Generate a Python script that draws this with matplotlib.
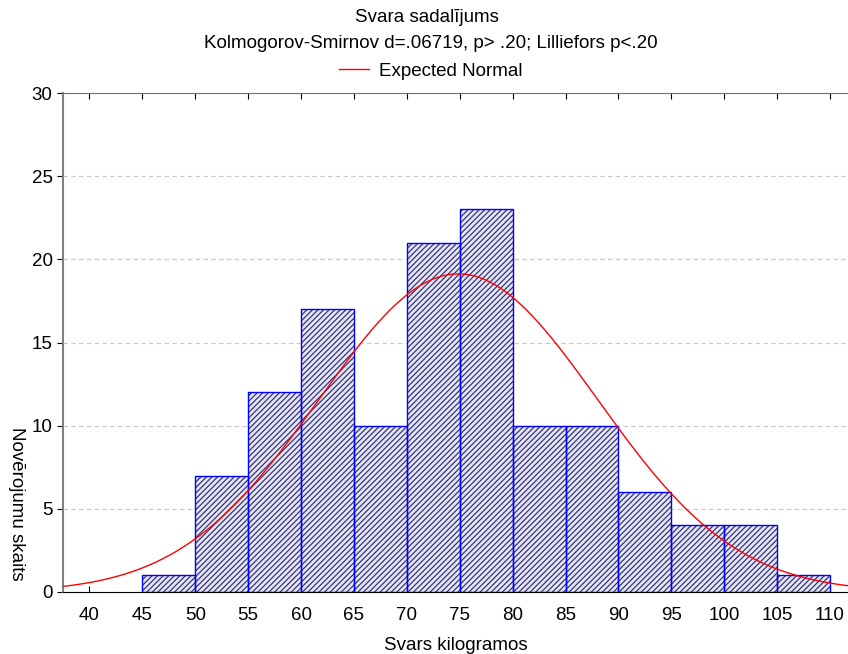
import numpy as np
import matplotlib.pyplot as plt

plt.rcParams['font.family'] = ['Liberation Sans', 'DejaVu Sans']
plt.rcParams['hatch.linewidth'] = 0.9

# histogram data (bin edges in kg, counts per bin)
bin_edges = [45, 50, 55, 60, 65, 70, 75, 80, 85, 90, 95, 100, 105, 110]
counts = [1, 7, 12, 17, 10, 21, 23, 10, 10, 6, 4, 4, 1]

# expected normal parameters
norm_mean = 74.86
norm_sd = 13.14

x_ticks = [40, 45, 50, 55, 60, 65, 70, 75, 80, 85, 90, 95, 100, 105, 110]
y_ticks = [0, 5, 10, 15, 20, 25, 30]

fig = plt.figure(figsize=(8.48, 6.54), dpi=100)
ax = fig.add_axes([63/848, 1-592/654, 1-63/848, (592-93)/654])

lefts = np.array(bin_edges[:-1])
widths = np.diff(bin_edges)

# hatched fill first, then blue outlines on top
ax.bar(lefts, counts, width=widths, align='edge', color='#e6e6f2',
       edgecolor='#34347c', hatch='//////', linewidth=0, zorder=2)
ax.bar(lefts, counts, width=widths, align='edge', fill=False,
       edgecolor='#0000ff', linewidth=1.0, zorder=3)

# expected normal curve scaled to counts
n_total = sum(counts)
bw = widths[0]
xs = np.linspace(37.5, 111.7, 400)
ys = n_total * bw / (norm_sd * np.sqrt(2*np.pi)) * np.exp(-0.5*((xs-norm_mean)/norm_sd)**2)
ax.plot(xs, ys, color='#ff0000', linewidth=1.0, zorder=4, label='Expected Normal')

ax.set_xlim(37.5, 111.7)
ax.set_ylim(0, 30)
ax.set_xticks(x_ticks)
ax.set_yticks(y_ticks)
ax.tick_params(axis='x', direction='in', length=4, labelsize=13.5, pad=11, top=True)
ax.tick_params(axis='y', direction='out', length=4, labelsize=13.5)
ax.yaxis.grid(True, linestyle=(0, (4, 3)), color='#c8c8c8', linewidth=0.8)
ax.set_axisbelow(True)

ax.spines['right'].set_visible(False)
ax.spines['top'].set_color('#707070')
ax.spines['left'].set_color('#808080')
ax.spines['left'].set_linewidth(1.5)
ax.spines['bottom'].set_color('black')

ax.set_xlabel('Svars kilogramos', fontsize=13.5, labelpad=9)
fig.text(0.019, 1-504/654, 'Novērojumu skaits', rotation=270, fontsize=13.5,
         ha='center', va='center')

fig.text(0.503, 1-18/654, 'Svara sadalījums', ha='center', va='center', fontsize=13.5)
fig.text(0.508, 1-44/654, 'Kolmogorov-Smirnov d=.06719, p> .20; Lilliefors p<.20',
         ha='center', va='center', fontsize=13.5)
fig.legend(loc='center', bbox_to_anchor=(0.508, 1-71/654), frameon=False,
           fontsize=13.5, handlelength=1.6, handletextpad=0.5)

fig.savefig('out.png', dpi=100)
